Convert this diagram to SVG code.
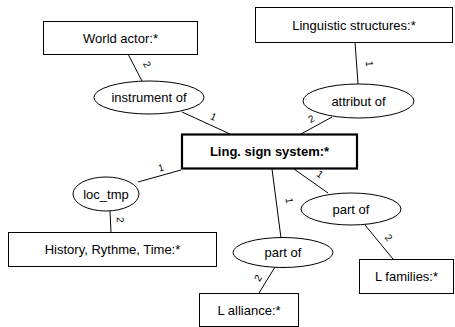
<svg xmlns="http://www.w3.org/2000/svg" width="455" height="327" viewBox="0 0 455 327">
<style>
.box{fill:#fff;stroke:#000;stroke-width:1}
.main{fill:#fff;stroke:#000;stroke-width:2.2}
.rel{fill:#fff;stroke:#000;stroke-width:1}
.t{font-family:"Liberation Sans",Arial,sans-serif;font-size:13px;text-anchor:middle;fill:#000}
.b{font-weight:bold}
.c line{stroke:#000;stroke-width:1}
.n{font-family:"Liberation Sans",Arial,sans-serif;font-size:10px;text-anchor:middle;fill:#000}
</style>
<rect width="455" height="327" fill="#fff"/>
<g id="connectors" class="c">
<line x1="128" y1="54" x2="142" y2="81"/>
<line x1="182" y1="112" x2="230" y2="134"/>
<line x1="355" y1="42" x2="358" y2="84"/>
<line x1="332" y1="117" x2="301" y2="134"/>
<line x1="138" y1="182" x2="181" y2="170"/>
<line x1="110" y1="211" x2="111" y2="232"/>
<line x1="272" y1="169" x2="281" y2="238"/>
<line x1="275" y1="267" x2="259" y2="293"/>
<line x1="294" y1="169" x2="328" y2="193"/>
<line x1="365" y1="225" x2="393" y2="259"/>
<text class="n" transform="translate(144,66) rotate(63)">2</text>
<text class="n" transform="translate(212,120) rotate(24)">1</text>
<text class="n" transform="translate(366,64) rotate(86)">1</text>
<text class="n" transform="translate(313,122) rotate(-29)">2</text>
<text class="n" transform="translate(162,171) rotate(-16)">1</text>
<text class="n" transform="translate(117,220) rotate(87)">2</text>
<text class="n" transform="translate(286,201) rotate(82)">1</text>
<text class="n" transform="translate(261,280) rotate(-58)">2</text>
<text class="n" transform="translate(318,177) rotate(34)">1</text>
<text class="n" transform="translate(386,240) rotate(50)">2</text>
</g>
<g id="world-actor"><rect class="box" x="43.5" y="21.5" width="154" height="33"/><text class="t" x="120.5" y="42.5">World actor:*</text></g>
<g id="linguistic-structures"><rect class="box" x="255.5" y="7.5" width="197" height="35"/><text class="t" x="354" y="29.5">Linguistic structures:*</text></g>
<g id="instrument-of"><ellipse class="rel" cx="149" cy="97.5" rx="55" ry="16.5"/><text class="t" x="149" y="102">instrument of</text></g>
<g id="attribut-of"><ellipse class="rel" cx="358.5" cy="101" rx="55.5" ry="17"/><text class="t" x="358.5" y="105.5">attribut of</text></g>
<g id="ling-sign-system"><rect class="main" x="182" y="134.5" width="175" height="34"/><text class="t b" x="269.5" y="156">Ling. sign system:*</text></g>
<g id="loc-tmp"><ellipse class="rel" cx="106" cy="194" rx="33" ry="17"/><text class="t" x="106" y="198.5">loc_tmp</text></g>
<g id="history"><rect class="box" x="8.5" y="232.5" width="208" height="34"/><text class="t" x="112.5" y="254">History, Rythme, Time:*</text></g>
<g id="part-of-upper"><ellipse class="rel" cx="351" cy="209" rx="50" ry="16"/><text class="t" x="351" y="213.5">part of</text></g>
<g id="part-of-lower"><ellipse class="rel" cx="283" cy="252.5" rx="50" ry="15"/><text class="t" x="283" y="257">part of</text></g>
<g id="l-families"><rect class="box" x="359.5" y="259.5" width="94" height="34"/><text class="t" x="406.5" y="281">L families:*</text></g>
<g id="l-alliance"><rect class="box" x="199.5" y="293.5" width="99" height="33"/><text class="t" x="249" y="314.5">L alliance:*</text></g>
</svg>
